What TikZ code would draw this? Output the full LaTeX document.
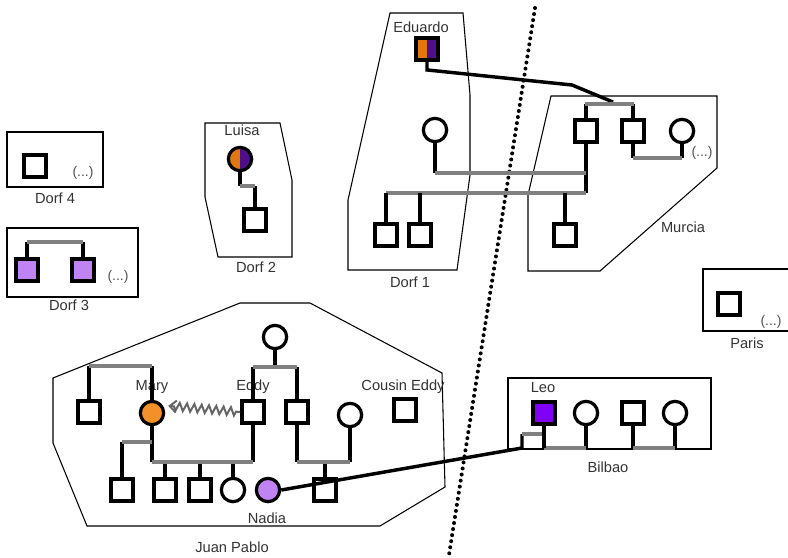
\documentclass[tikz,border=0pt]{standalone}
\usepackage{fontspec}
\setmainfont{Liberation Sans}
\usetikzlibrary{decorations.pathmorphing,arrows.meta}
\definecolor{eorange}{HTML}{E0780F}
\definecolor{epurple}{HTML}{4E0F8A}
\definecolor{maryc}{HTML}{F4902A}
\definecolor{lpurple}{HTML}{C084F2}
\definecolor{leoc}{HTML}{7F00F5}
\definecolor{barc}{HTML}{808080}
\definecolor{txt}{HTML}{333333}
\begin{document}
\begin{tikzpicture}[x=0.75pt,y=-0.75pt,
 sq/.style={rectangle, draw=black, line width=2.6pt, fill=white, minimum size=16.8pt, inner sep=0pt},
 ci/.style={circle, draw=black, line width=2.4pt, fill=white, minimum size=17.5pt, inner sep=0pt},
 lbl/.style={text=txt, font=\fontsize{11}{13}\selectfont, inner sep=0pt},
 etc/.style={text=txt!85, font=\fontsize{10.5}{12}\selectfont, inner sep=0pt},
 zone/.style={draw=black, line width=0.8pt, line join=miter},
 kin/.style={draw=black, line width=2.6pt},
 mar/.style={draw=barc, line width=3.2pt},
 divider/.style={draw=black, line width=3pt, line cap=round, dash pattern=on 0pt off 4.6pt},
 zig/.style={draw=black!60, line width=1.5pt, line join=miter, decorate,
   decoration={zigzag, segment length=5.5pt, amplitude=3pt, pre length=3pt, post length=7pt},
   -{Straight Barb[length=5pt, width=9pt, line width=1.5pt]}, shorten >=4pt},
 half/.style={path picture={
   \fill[eorange] (path picture bounding box.south west) rectangle (path picture bounding box.north);
   \fill[epurple] (path picture bounding box.south) rectangle (path picture bounding box.north east);}},
]
\useasboundingbox (0,0) rectangle (788,557);

% ---------- zones ----------
\draw[zone] (7,132) rectangle (103,187);
\draw[zone] (7,228) rectangle (138,297);
\draw[zone] (205,123) -- (280,123) -- (292,180) -- (292,257) -- (218,257) -- (205,197) -- cycle;
\draw[zone] (390,13) -- (463,13) -- (470,95) -- (470,175) -- (457,270) -- (348,270) -- (348,200) -- cycle;
\draw[zone] (551,96) -- (717,96) -- (717,168) -- (600,271) -- (528,271) -- (528,195) -- cycle;
\draw[zone] (240,303) -- (310,303) -- (442,373) -- (445,487) -- (380,526) -- (87,526) -- (53,443) -- (53,378) -- cycle;
\draw[zone] (508,378) rectangle (711,449);
\draw[zone] (703,269) rectangle (800,331);

% ---------- zone labels ----------
\node[lbl] (t4) at (55,198) {Dorf 4};
\node[lbl] (t3) at (69,305) {Dorf 3};
\node[lbl] (t2) at (256,267) {Dorf 2};
\node[lbl] (t1) at (410,282) {Dorf 1};
\node[lbl] (tm) at (683,227) {Murcia};
\node[lbl] (tp) at (747,343) {Paris};
\node[lbl] (tb) at (608,467) {Bilbao};
\node[lbl] (tj) at (232,547) {Juan Pablo};

% ---------- Dorf 4 ----------
\node[sq] (d4a) at (35,166) {};
\node[etc] (e4) at (83,173) {(...)};

% ---------- Dorf 3 ----------
\node[sq, fill=lpurple] (d3a) at (27,270) {};
\node[sq, fill=lpurple] (d3b) at (83,270) {};
\node[etc] (e3) at (118,277) {(...)};
\coordinate (d3m) at (55,242);
\draw[kin] (d3a.north) -- (d3a |- d3m);
\draw[kin] (d3b.north) -- (d3b |- d3m);
\draw[mar] (d3a |- d3m) -- (d3b |- d3m);

% ---------- Dorf 2 ----------
\node[ci, half] (luisa) at (240,159) {};
\node[lbl] (tluisa) at (242,130) {Luisa};
\node[sq] (d2a) at (255,220) {};
\coordinate (d2m) at (247,186);
\draw[kin] (luisa.south) -- (luisa |- d2m);
\draw[kin] (d2a |- d2m) -- (d2a.north);
\draw[mar] (luisa |- d2m) -- (d2a |- d2m);

% ---------- divider ----------
\coordinate (dtop) at (535,8);
\coordinate (dbot) at (449,555);
\draw[divider] (dtop) -- (dbot);

% ---------- Dorf 1 / Murcia ----------
\node[sq, half] (edu) at (427,49) {};
\node[lbl] (tedu) at (421,27) {Eduardo};
\node[ci] (d1c) at (435,130) {};
\node[sq] (m1) at (586,131) {};
\node[sq] (m2) at (633,131) {};
\node[ci] (m3) at (682,131) {};
\node[etc] (em) at (702,153) {(...)};
\node[sq] (d1a) at (386,235) {};
\node[sq] (d1b) at (420,235) {};
\node[sq] (m4) at (565,235) {};
\coordinate (mtop) at (610,104);
\coordinate (m23) at (650,158);
\coordinate (r1) at (500,173);
\coordinate (r2) at (500,193);
\coordinate (bend1) at (572,85);
\coordinate (eduend) at (613,102);

\draw[kin] (m1.north) -- (m1 |- mtop);
\draw[kin] (m2.north) -- (m2 |- mtop);
\draw[kin] (edu.south) -- ++(0,8) -- (bend1) -- (eduend);
\draw[mar] ([xshift=-1pt]m1 |- mtop) -- ([xshift=1pt]m2 |- mtop);
\draw[kin] (m2.south) -- (m2 |- m23);
\draw[kin] (m3.south) -- (m3 |- m23);
\draw[mar] (m2 |- m23) -- (m3 |- m23);
\draw[kin] (m1.south) -- (m1 |- r2);
\draw[kin] (d1c.south) -- (d1c |- r1);
\draw[mar] (d1c |- r1) -- (m1 |- r1);
\draw[mar] (d1a |- r2) -- (m1 |- r2);
\draw[kin] (d1a |- r2) -- (d1a.north);
\draw[kin] (d1b |- r2) -- (d1b.north);
\draw[kin] (m4 |- r2) -- (m4.north);

% ---------- Paris ----------
\node[sq] (p1) at (729,304) {};
\node[etc] (ep) at (771,322) {(...)};

% ---------- Bilbao ----------
\node[sq, fill=leoc] (leo) at (544,413) {};
\node[lbl] (tleo) at (543,388) {Leo};
\node[ci] (b2) at (586,413) {};
\node[sq] (b3) at (633,413) {};
\node[ci] (b4) at (675,413) {};
\coordinate (bb) at (600,448);
\draw[kin] (leo.south) -- (leo |- bb);
\draw[kin] (b2.south) -- (b2 |- bb);
\draw[kin] (b3.south) -- (b3 |- bb);
\draw[kin] (b4.south) -- (b4 |- bb);
\draw[mar] (leo |- bb) -- (b2 |- bb);
\draw[mar] (b3 |- bb) -- (b4 |- bb);

% ---------- Juan Pablo ----------
\node[sq] (j1) at (89,412) {};
\node[ci, fill=maryc] (mary) at (152,413) {};
\node[lbl] (tmary) at (152,387) {Mary};
\node[sq] (eddy) at (253,412) {};
\node[lbl] (teddy) at (253,387) {Eddy};
\node[ci] (jgm) at (275,337) {};
\node[sq] (j5) at (297,412) {};
\node[ci] (j6) at (350,415) {};
\node[sq] (ce) at (405,410) {};
\node[lbl] (tce) at (403,387) {Cousin Eddy};
\node[sq] (c0) at (122,490) {};
\node[sq] (c1) at (165,490) {};
\node[sq] (c2) at (200,490) {};
\node[ci] (c3) at (233,490) {};
\node[ci, fill=lpurple] (nadia) at (268,490) {};
\node[lbl] (tnadia) at (267,518) {Nadia};
\node[sq] (c5) at (325,490) {};

\coordinate (ja) at (120,366);
\coordinate (jb) at (275,367);
\coordinate (jm) at (200,462);
\coordinate (jh) at (135,442);

\draw[kin] (j1 |- ja) -- (j1.north);
\draw[kin] (mary |- ja) -- (mary.north);
\draw[mar] (j1 |- ja) -- (mary |- ja);
\draw[kin] (jgm.south) -- (jgm |- jb);
\draw[kin] (eddy |- jb) -- (eddy.north);
\draw[kin] (j5 |- jb) -- (j5.north);
\draw[mar] (eddy |- jb) -- (j5 |- jb);

\draw[kin] (mary.south) -- (mary |- jm);
\draw[kin] (eddy.south) -- (eddy |- jm);
\draw[kin] (c1 |- jm) -- (c1.north);
\draw[kin] (c2 |- jm) -- (c2.north);
\draw[kin] (c3 |- jm) -- (c3.north);
\draw[mar] (mary |- jm) -- (eddy |- jm);
\draw[kin] (c0 |- jh) -- (c0.north);
\draw[mar] (c0 |- jh) -- (mary |- jh);

\draw[kin] (j5.south) -- (j5 |- jm);
\draw[kin] (j6.south) -- (j6 |- jm);
\draw[kin] (c5 |- jm) -- (c5.north);
\draw[mar] (j5 |- jm) -- (j6 |- jm);

\draw[zig] (eddy.west) -- (mary.35);

% ---------- Nadia -- Leo ----------
\coordinate (nl) at (522,448);
\coordinate (nl2) at (522,434);
\draw[kin] (nadia.east) -- (nl) -- (nl2);
\draw[mar] (nl2) -- ([xshift=1pt]leo |- nl2);
\draw[kin] (leo.south) -- (leo |- bb);
\end{tikzpicture}
\end{document}
